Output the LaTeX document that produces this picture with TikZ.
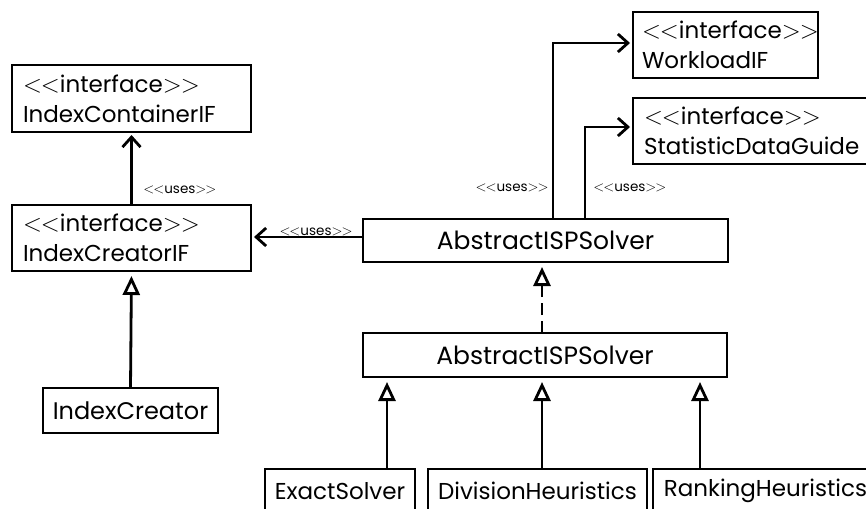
\documentclass[tikz,border=0pt]{standalone}
\usepackage{fontspec}
\newfontfamily\pop{Poppins}
\usetikzlibrary{arrows.meta}
\newcommand{\lt}{$\mathord{<}\kern-1pt\mathord{<}$}
\newcommand{\gt}{$\mathord{>}\kern-1pt\mathord{>}$}
\begin{document}
\begin{tikzpicture}[x=1pt,y=-1pt,line width=2.8pt,
  cls/.style={draw,line width=2.8pt,inner sep=0pt,outer sep=0pt,anchor=north west,
    font=\pop\fontsize{23}{30}\selectfont},
  iface/.style={cls,align=left},
  lbl/.style={font=\pop\fontsize{13.5}{15}\selectfont,inner sep=0pt},
  uses/.style={-{Straight Barb[length=10pt,width=18pt]},shorten >=3pt},
  gen/.style={-{Triangle[open,length=19pt,width=17pt]},shorten >=5pt},
  real/.style={gen,dash pattern=on 12pt off 6pt}]
\useasboundingbox (0,0) rectangle (866,508);
\clip (0,0) rectangle (866,508);
% boxes
\node[iface,minimum width=239pt,minimum height=67pt,text width=217pt] (icont) at (12,65) {\lt interface\gt\\IndexContainerIF};
\node[iface,minimum width=239pt,minimum height=66pt,text width=217pt] (icrif) at (12,205) {\lt interface\gt\\IndexCreatorIF};
\node[cls,minimum width=175pt,minimum height=45pt,font=\pop\fontsize{24}{30}\selectfont] (icr) at (43,388) {IndexCreator};
\node[cls,minimum width=365pt,minimum height=43pt,font=\pop\fontsize{25}{30}\selectfont] (asp1) at (363,219) {AbstractISPSolver};
\node[cls,minimum width=364pt,minimum height=44pt,font=\pop\fontsize{25}{30}\selectfont] (asp2) at (363,333) {AbstractISPSolver};
\node[iface,minimum width=185pt,minimum height=66pt,text width=167pt] (wl) at (633,12) {\lt interface\gt\\WorkloadIF};
\node[iface,minimum width=250pt,minimum height=66pt,text width=228pt] (sdg) at (633,98) {\lt interface\gt\\StatisticDataGuide};
\node[cls,minimum width=150pt,minimum height=44pt] (ex) at (265,469) {ExactSolver};
\node[cls,minimum width=219pt,minimum height=44pt] (dh) at (428,469) {DivisionHeuristics};
\node[cls,minimum width=225pt,minimum height=44pt] (rh) at (653,469) {RankingHeuristics};
% connectors
\draw[uses] (icrif.north) -- (icont.south);
\node[lbl,anchor=west] (l1) at (142,190) {\lt uses\gt};
\draw[uses] (asp1.west |- 0,237) -- (icrif.east |- 0,237);
\node[lbl] (l2) at (316,232) {\lt uses\gt};
\draw[uses] (asp1.north -| 553,0) |- (wl.west |- 0,43);
\draw[uses] (asp1.north -| 585,0) |- (sdg.west |- 0,127);
\node[lbl,anchor=east] (l3) at (550,188) {\lt uses\gt};
\node[lbl,anchor=west] (l4) at (592,188) {\lt uses\gt};
\draw[real] (asp2.north -| 542,0) -- (asp1.south -| 542,0);
\draw[gen] (icr.north) -- (icrif.south);
\draw[gen] (ex.north -| 387,0) -- (asp2.south -| 387,0);
\draw[gen] (dh.north -| 542,0) -- (asp2.south -| 542,0);
\draw[gen] (rh.north -| 700,0) -- (asp2.south -| 700,0);
\end{tikzpicture}
\end{document}
